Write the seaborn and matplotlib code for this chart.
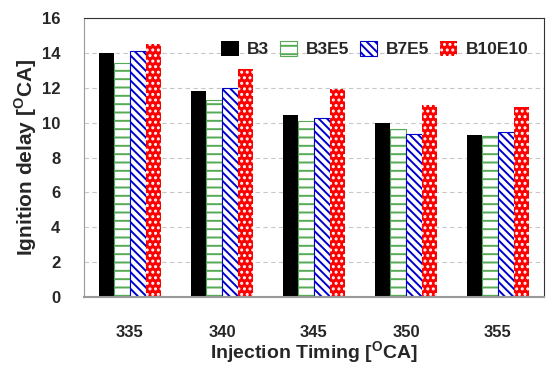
import matplotlib
matplotlib.use("Agg")
import matplotlib.pyplot as plt
import seaborn as sns
import pandas as pd
from matplotlib.patches import Patch

timings = ["335", "340", "345", "350", "355"]
fuels = ["B3", "B3E5", "B7E5", "B10E10"]
b3 = [14.0, 11.8, 10.45, 10.0, 9.3]
b3e5 = [13.4, 11.3, 10.1, 9.65, 9.25]
b7e5 = [14.1, 12.0, 10.25, 9.35, 9.45]
b10e10 = [14.5, 13.1, 11.9, 11.0, 10.9]

rows = []
for f, vals in zip(fuels, [b3, b3e5, b7e5, b10e10]):
    for t, v in zip(timings, vals):
        rows.append({"timing": t, "delay": v, "fuel": f})
df = pd.DataFrame(rows)

sns.set_style("white")
plt.rcParams["font.family"] = ["Liberation Sans", "DejaVu Sans"]
plt.rcParams["font.weight"] = "bold"
plt.rcParams["mathtext.fontset"] = "custom"
plt.rcParams["mathtext.rm"] = "Liberation Sans"
plt.rcParams["mathtext.bf"] = "Liberation Sans:bold"
plt.rcParams["hatch.linewidth"] = 1.4

fig = plt.figure(figsize=(5.46, 3.66), dpi=100)
ax = fig.add_axes([84/546, 1-297/366, (544-84)/546, (297-18)/366])

faces = ["black", "white", "white", "#ff0000"]
edges = ["black", "#55aa55", "#0000cc", "white"]
hatches = [None, "--", "\\\\\\\\", "..."]

sns.barplot(data=df, x="timing", y="delay", hue="fuel", hue_order=fuels,
            palette=faces, width=0.68, ax=ax, legend=False, saturation=1)

for cont, fc, ec, h in zip(ax.containers, faces, edges, hatches):
    for p in cont:
        p.set_facecolor(fc)
        p.set_edgecolor(ec)
        if h:
            p.set_hatch(h)
        p.set_linewidth(0.8 if fc == "white" else 0.0)

ax.set_ylim(0, 16)
ax.set_yticks(range(0, 17, 2))
ax.yaxis.grid(True, linestyle=(0, (4, 3)), color="#c8c8c8", linewidth=0.8)
ax.set_axisbelow(True)
for s in ax.spines.values():
    s.set_color("#333333")
    s.set_linewidth(0.8)
ax.spines["bottom"].set_color("#999999")
ax.spines["bottom"].set_linewidth(1.5)
ax.spines["left"].set_color("#999999")

ax.tick_params(axis="y", length=0, pad=17, labelsize=12)
ax.tick_params(axis="x", length=0, pad=20, labelsize=12)
for lbl in ax.get_xticklabels() + ax.get_yticklabels():
    lbl.set_fontweight("bold")

ax.set_xlabel(r"Injection Timing [$^{\mathrm{O}}$CA]", fontsize=14, fontweight="bold", labelpad=0)
ax.set_ylabel(r"Ignition delay [$^{\mathrm{O}}$CA]", fontsize=15, fontweight="bold", labelpad=2)

handles = [Patch(facecolor=fc, edgecolor=ec, hatch=h, linewidth=0.8 if fc == "white" else 0)
           for fc, ec, h in zip(faces, edges, hatches)]
leg = ax.legend(handles, fuels, ncol=4, loc="upper right", bbox_to_anchor=(1.0, 0.975),
                frameon=False, handlelength=1.0, handleheight=1.0,
                handletextpad=0.5, columnspacing=0.6, prop={"weight": "bold", "size": 12.5})

fig.savefig("out.png", dpi=100)
